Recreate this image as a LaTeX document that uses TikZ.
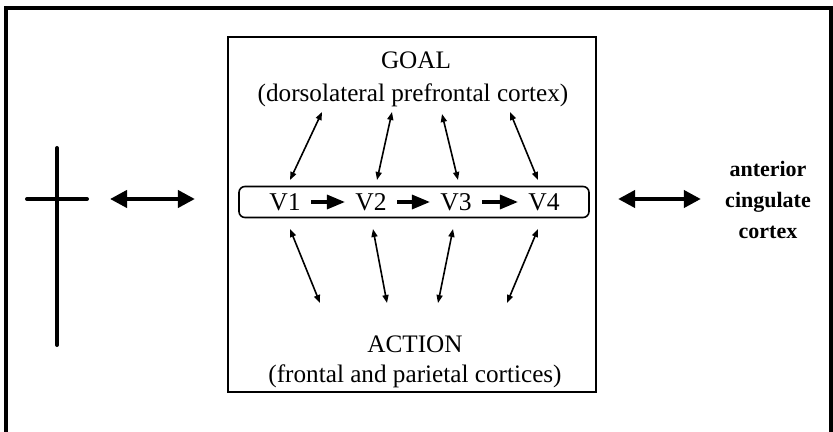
\documentclass[tikz,border=0pt]{standalone}
\usepackage{fontspec}
\setmainfont{Liberation Serif}
\usetikzlibrary{positioning,arrows.meta,calc}
\tikzset{
  frame/.style={draw=black,line width=1.6pt},
  panel/.style={draw=black,line width=1.1pt,minimum width=184pt,minimum height=177.5pt,inner sep=0pt},
  heading/.style={font=\fontsize{12.6}{14}\selectfont,inner sep=0pt,align=center},
  stage/.style={font=\fontsize{12.8}{14}\selectfont,inner xsep=5pt,inner ysep=1pt},
  chainbox/.style={draw=black,rounded corners=3pt,line width=0.8pt,minimum width=175pt,minimum height=15.5pt,inner sep=0pt},
  acc/.style={font=\fontsize{11}{15.5}\selectfont\bfseries,align=center,inner sep=1pt},
  bar/.style={draw=black,line width=2pt,line cap=round},
  flow/.style={-{Triangle[length=9pt,width=7pt]},line width=1.6pt},
  wide/.style={{Triangle[length=8.5pt,width=8.5pt]}-{Triangle[length=8.5pt,width=8.5pt]},line width=2pt},
  link/.style={{Triangle[length=4pt,width=3pt]}-{Triangle[length=4pt,width=3pt]},line width=0.8pt}
}

\begin{document}
\begin{tikzpicture}[x=0.5pt,y=-0.5pt]
  \useasboundingbox (0,0) rectangle (833,432);
  \clip (0,0) rectangle (833,432);
  \draw[frame] (6,8) rectangle (831,450);
  % central panel
  \node[panel] (panel) at (412,214.5) {};
  \node[heading,anchor=base] (goal) at (416,69) {GOAL};
  \node[heading,anchor=base] (goalsub) at (413,102) {(dorsolateral prefrontal cortex)};
  \node[chainbox] (chain) at (414,202) {};
  \node[stage] (v1) at (285,202) {V1};
  \node[stage] (v2) at (371,202) {V2};
  \node[stage] (v3) at (456,202) {V3};
  \node[stage] (v4) at (544,202) {V4};
  \draw[flow] (v1) -- (v2);
  \draw[flow] (v2) -- (v3);
  \draw[flow] (v3) -- (v4);
  \node[heading,anchor=base] (action) at (415,352) {ACTION};
  \node[heading,anchor=base] (actionsub) at (415,382) {(frontal and parietal cortices)};
  % goal and action links
  \coordinate (g1) at (322,112);
  \coordinate (g2) at (392,112);
  \coordinate (g3) at (442,114);
  \coordinate (g4) at (510,112);
  \draw[link] (g1) -- ($(v1)+(5,-22)$);
  \draw[link] (g2) -- ($(v2)+(6,-22)$);
  \draw[link] (g3) -- ($(v3)+(2,-22)$);
  \draw[link] (g4) -- ($(v4)+(-6,-22)$);
  \coordinate (a1) at (320,303);
  \coordinate (a2) at (387,303);
  \coordinate (a3) at (438,303);
  \coordinate (a4) at (507,303);
  \draw[link] ($(v1)+(5,27)$) -- (a1);
  \draw[link] ($(v2)+(2,27)$) -- (a2);
  \draw[link] ($(v3)+(-3,27)$) -- (a3);
  \draw[link] ($(v4)+(-6,27)$) -- (a4);
  % left cross and right label
  \coordinate (cross) at (57,199);
  \draw[bar] ($(cross)+(0,-51)$) -- ($(cross)+(0,146)$);
  \draw[bar] ($(cross)+(-30,0)$) -- ($(cross)+(30,0)$);
  \node[acc] (acc) at (768,200) {anterior\\cingulate\\cortex};
  \draw[wide,shorten <=26.5pt,shorten >=16pt] (cross) -- (panel.west |- cross);
  \draw[wide,shorten <=10.5pt,shorten >=11pt] (panel.east |- cross) -- (acc.west |- cross);
\end{tikzpicture}
\end{document}
